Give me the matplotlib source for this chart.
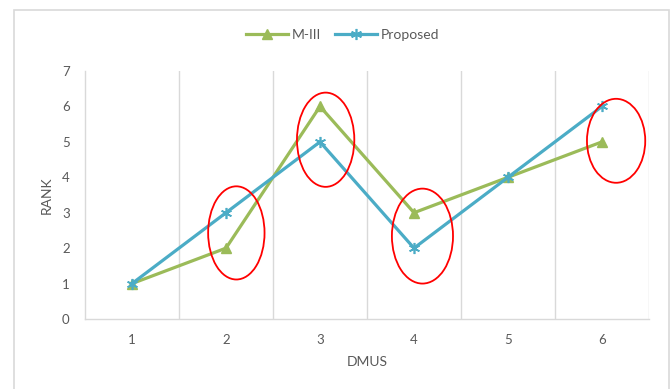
import matplotlib.pyplot as plt
from matplotlib.patches import Ellipse, Rectangle

dmus = [1, 2, 3, 4, 5, 6]
rank_m3 = [1, 2, 6, 3, 4, 5]
rank_proposed = [1, 3, 5, 2, 4, 6]

# rings drawn around the DMUs where the two rankings differ
ring_x = [2.11, 3.06, 4.09, 6.15]
ring_y = [2.43, 5.06, 2.34, 5.03]
ring_w = [0.60, 0.61, 0.65, 0.62]
ring_h = [2.63, 2.66, 2.68, 2.37]

green = '#9BBB59'
blue = '#4BACC6'
grid = '#D9D9D9'
text = '#595959'

plt.rcParams['font.family'] = ['Lato', 'DejaVu Sans']

fig = plt.figure(figsize=(6.72, 3.89), dpi=100)
ax = fig.add_axes([85 / 672, 1 - 319 / 389, 564 / 672, 248 / 389])

# chart frame
fig.patches.append(Rectangle((14 / 672, -0.1), 655 / 672, 1.1 - 10 / 389,
                             transform=fig.transFigure, fill=False,
                             edgecolor=grid, linewidth=1.2, clip_on=False))

ax.plot(dmus, rank_m3, color=green, linewidth=2.3, marker='^',
        markersize=7, label='M-III', zorder=3)
ax.plot(dmus, rank_proposed, color=blue, linewidth=2.3, marker=(6, 2, 0),
        markersize=8, markeredgewidth=1.2, label='Proposed', zorder=3)

for x, y, w, h in zip(ring_x, ring_y, ring_w, ring_h):
    ax.add_patch(Ellipse((x, y), w, h, fill=False, edgecolor='red',
                         linewidth=1.3, zorder=4))

ax.set_xlim(0.5, 6.5)
ax.set_ylim(0, 7)
ax.set_xticks(dmus)
ax.set_yticks(range(8))
for b in range(1, 7):
    ax.axvline(b + 0.5, color=grid, linewidth=1, zorder=1)

for side in ['top', 'right']:
    ax.spines[side].set_visible(False)
for side in ['left', 'bottom']:
    ax.spines[side].set_color(grid)
    ax.spines[side].set_linewidth(1)

ax.tick_params(length=0, labelsize=9.5, labelcolor=text)
ax.tick_params(axis='x', pad=11)
ax.tick_params(axis='y', pad=11)

ax.set_xlabel('DMUS', fontsize=10, color=text, va='center')
ax.set_ylabel('RANK', fontsize=10, color=text, va='center')
ax.xaxis.set_label_coords(0.5, -0.172)
ax.yaxis.set_label_coords(-0.067, 0.5)

ax.legend(loc='center', bbox_to_anchor=(0.51, 0.91),
          bbox_transform=fig.transFigure, ncol=2, frameon=False,
          fontsize=10, labelcolor=text, handlelength=3.0,
          columnspacing=1.0, handletextpad=0.3)

fig.savefig('out.png', dpi=100)
